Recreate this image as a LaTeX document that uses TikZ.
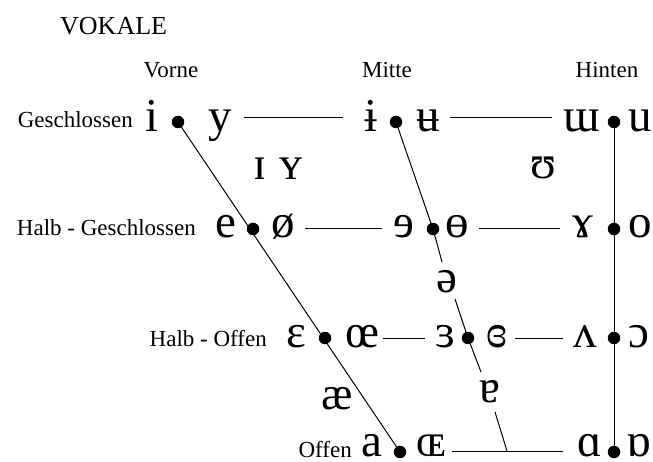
\documentclass[tikz,border=0pt]{standalone}
\usepackage{fontspec}
\setmainfont{Liberation Serif}
\newfontfamily\ipafont{Liberation Serif}
\begin{document}
\begin{tikzpicture}[x=1pt,y=-1pt,
  lab/.style={font=\fontsize{23}{23}\selectfont, anchor=base east, inner sep=0pt},
  hd/.style={font=\fontsize{23}{23}\selectfont, anchor=base, inner sep=0pt},
  ttl/.style={font=\fontsize{26}{26}\selectfont, anchor=base west, inner sep=0pt},
  ipa/.style={font=\ipafont\fontsize{47}{47}\selectfont, anchor=base, inner sep=0pt, text depth=0pt},
  dotnode/.style={circle, fill=black, minimum size=12.5pt, inner sep=0pt},
  ln/.style={line width=1pt}]
\useasboundingbox (0,0) rectangle (653,462);
% titles
\node[ttl] (title) at (60,35) {VOKALE};
\node[hd] (vorne) at (171,78) {Vorne};
\node[hd] (mitte) at (387,78) {Mitte};
\node[hd] (hinten) at (607,78) {Hinten};
% row labels
\node[lab] (l1) at (133,128) {Geschlossen};
\node[lab] (l2) at (196,236) {Halb - Geschlossen};
\node[lab] (l3) at (267,346) {Halb - Offen};
\node[lab] (l4) at (352,457) {Offen};
% dots
\node[dotnode] (f1) at (178,122) {};
\node[dotnode] (f2) at (253,229) {};
\node[dotnode] (f3) at (325,338) {};
\node[dotnode] (f4) at (400,452) {};
\node[dotnode] (c1) at (396,122) {};
\node[dotnode] (c2) at (433,229) {};
\node[dotnode] (c3) at (468,338) {};
\node[dotnode] (b1) at (614,122) {};
\node[dotnode] (b2) at (614,229) {};
\node[dotnode] (b3) at (614,338) {};
\node[dotnode] (b4) at (614,452) {};
% symbols row 1
\node[ipa] (s-i) at (152,132) {i};
\node[ipa] (s-y) at (220,132) {y};
\node[ipa] (s-ibar) at (371,132) {ɨ};
\node[ipa] (s-ubar) at (428,132) {ʉ};
\node[ipa] (s-m) at (582,132) {ɯ};
\node[ipa] (s-u) at (640,132) {u};
% near close
\node[ipa] (s-I) at (260,180) {ɪ};
\node[ipa] (s-Y) at (291,180) {ʏ};
\node[ipa] (s-U) at (543,179) {ʊ};
% row 2
\node[ipa] (s-e) at (226,238) {e};
\node[ipa] (s-oe) at (283,238) {ø};
\node[ipa] (s-re) at (404,238) {ɘ};
\node[ipa] (s-bo) at (457,238) {ɵ};
\node[ipa] (s-ram) at (583,238) {ɤ};
\node[ipa] (s-o) at (640,238) {o};
% schwa
\node[ipa] (s-schwa) at (447,292) {ə};
% row 3
\node[ipa] (s-eps) at (296,347) {ɛ};
\node[ipa] (s-oelig) at (362,347) {œ};
\node[ipa] (s-reps) at (445,347) {ɜ};
\node[ipa] (s-ceps) at (497,347) {ɞ};
\node[ipa] (s-v) at (585,347) {ʌ};
\node[ipa] (s-oo) at (639,347) {ɔ};
% near open
\node[ipa] (s-ae) at (337,409) {æ};
\node[ipa] (s-ta) at (490,402) {ɐ};
% row 4
\node[ipa] (s-a) at (372,456) {a};
\node[ipa] (s-OE) at (431,456) {ɶ};
\node[ipa] (s-aa) at (590,456) {ɑ};
\node[ipa] (s-ra) at (639,456) {ɒ};
% gap coordinates on central line
\coordinate (g1) at (442,262);
\coordinate (g2) at (455,299);
\coordinate (g3) at (481,372);
\coordinate (g4) at (495,412);
\coordinate (g5) at (507,451);
% horizontal line ends
\coordinate (h1a) at (244,118); \coordinate (h1b) at (343,118);
\coordinate (h1c) at (450,118); \coordinate (h1d) at (552,118);
\coordinate (h2a) at (305,229); \coordinate (h2b) at (382,229);
\coordinate (h2c) at (479,229); \coordinate (h2d) at (560,229);
\coordinate (h3a) at (383,338); \coordinate (h3b) at (425,338);
\coordinate (h3c) at (515,338); \coordinate (h3d) at (563,338);
\coordinate (h4a) at (452,451); \coordinate (h4b) at (563,451);
% lines
\draw[ln] (f1.center) -- (f4.center);
\draw[ln] (b1.center) -- (b4.center);
\draw[ln] (c1.center) -- (c2.center) -- (g1);
\draw[ln] (g2) -- (c3.center) -- (g3);
\draw[ln] (g4) -- (g5);
\draw[ln] (h1a) -- (h1b);
\draw[ln] (h1c) -- (h1d);
\draw[ln] (h2a) -- (h2b);
\draw[ln] (h2c) -- (h2d);
\draw[ln] (h3a) -- (h3b);
\draw[ln] (h3c) -- (h3d);
\draw[ln] (h4a) -- (h4b);
\end{tikzpicture}
\end{document}
